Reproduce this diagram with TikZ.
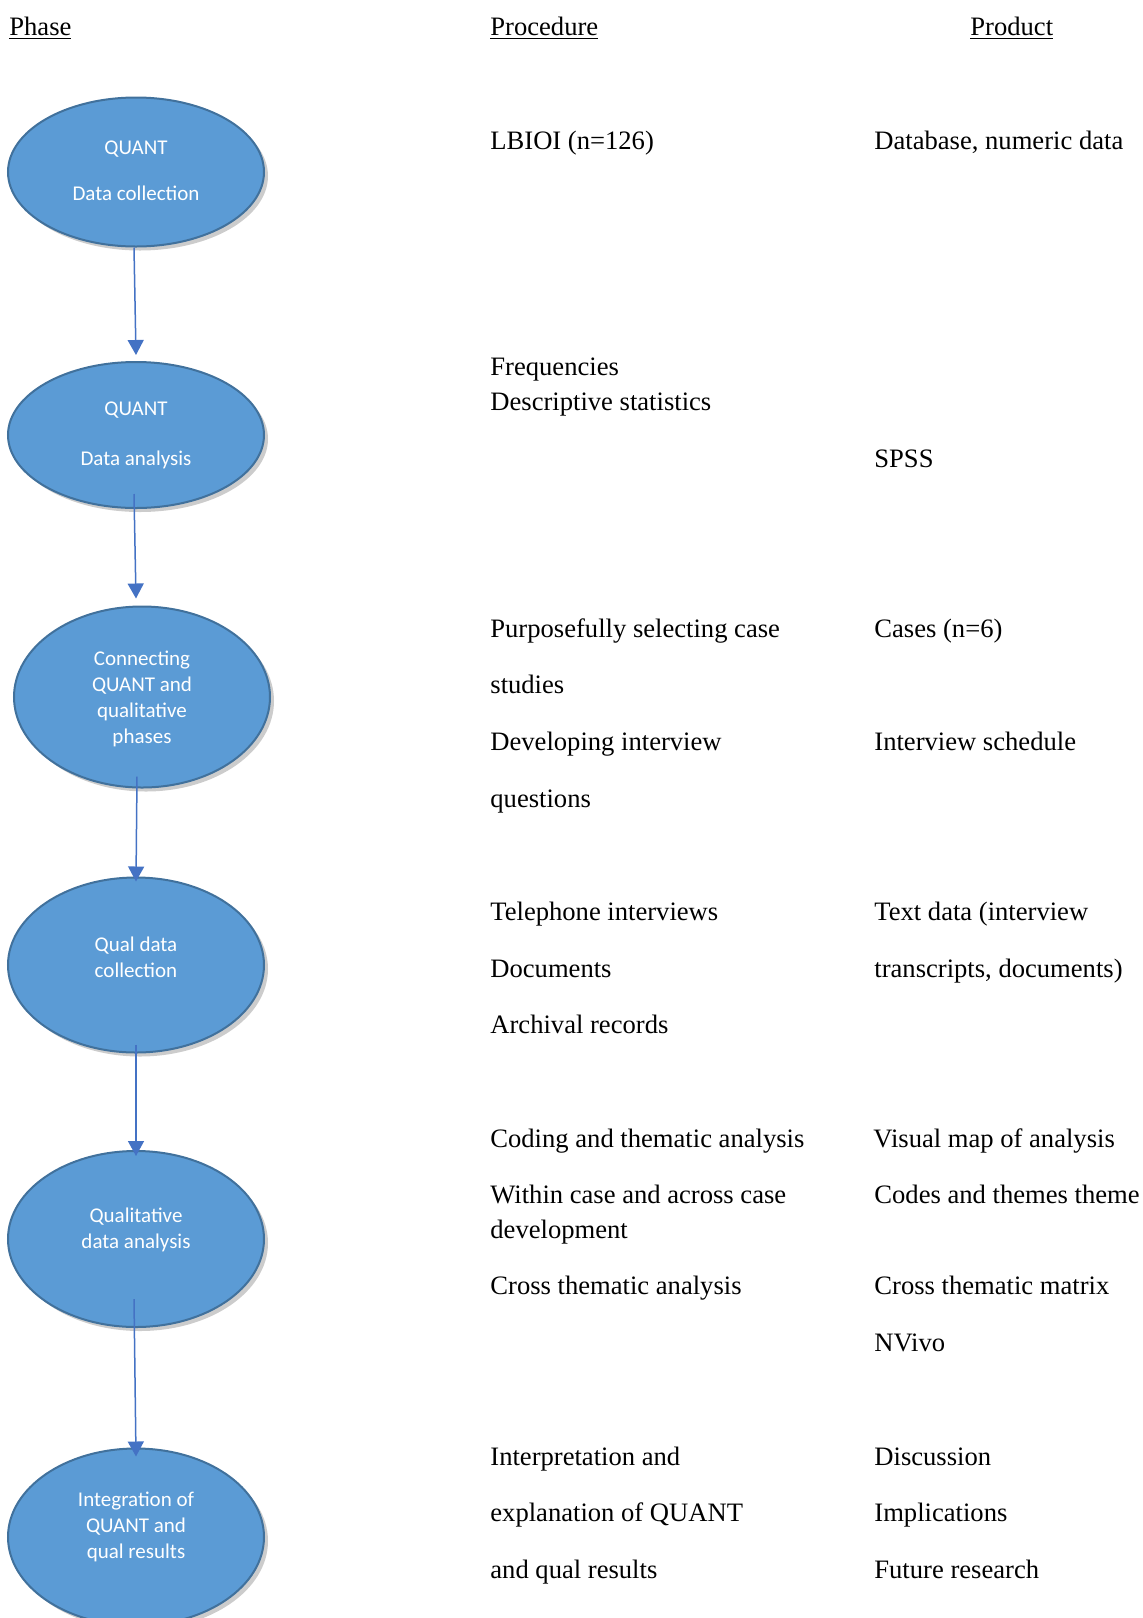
\documentclass[tikz,border=0pt]{standalone}
\usepackage{fontspec}
\setmainfont{Liberation Serif}
\newfontfamily\calibrifont{Carlito}
\usepackage{tikz}
\usetikzlibrary{shapes.geometric}
\usetikzlibrary{arrows.meta}
\usetikzlibrary{shadows}
\definecolor{phasefill}{HTML}{5B9BD5}
\definecolor{phaseline}{HTML}{41719C}
\definecolor{flowline}{HTML}{4472C4}
\tikzset{
phase/.style={ % Ellipse of each phase
ellipse, draw=phaseline, line width=1pt, fill=phasefill,
minimum width=128pt, inner sep=0pt,
drop shadow={shadow xshift=2pt, shadow yshift=-2pt, opacity=0.2, fill=black}},
phasetext/.style={ % Text set in the ellipses
align=center, text=white, inner sep=0pt,
font=\calibrifont\fontsize{10.5}{13}\selectfont},
flow/.style={ % Arrows between phases
draw=flowline, line width=0.75pt,
-{Triangle[width=8pt,length=7.5pt]}},
col/.style={anchor=base west, inner sep=0pt,
font=\fontsize{13.3}{16}\selectfont}}

\begin{document}
\begin{tikzpicture}[x=0.5pt,y=-0.5pt]
\useasboundingbox (0,0) rectangle (1142,1618);
\node[phase, minimum height=74.5pt] (qd) at (136,172) {};
\node[phase, minimum height=73pt] (qa) at (136,435) {};
\node[phase, minimum height=90.5pt] (cn) at (142,697) {};
\node[phase, minimum height=87.5pt] (qc) at (136,965) {};
\node[phase, minimum height=88pt] (ql) at (136,1239) {};
\node[phase, minimum height=88.5pt] (ig) at (136,1537) {};
\node[phasetext] (qd-t) at (136,171) {QUANT\\[10pt]Data collection};
\node[phasetext] (qa-t) at (136,435) {QUANT\\[12pt]Data analysis};
\node[phasetext] (cn-t) at (142,699) {Connecting\\QUANT and\\qualitative\\phases};
\node[phasetext] (qc-t) at (136,957) {Qual data\\collection};
\node[phasetext] (ql-t) at (136,1230) {Qualitative\\data analysis};
\node[phasetext] (ig-t) at (136,1527) {Integration of\\QUANT and\\qual results};
\draw[flow] ([xshift=-1pt]qd.south) -- ([yshift=3pt]qa.north);
\draw[flow] ([xshift=-1pt,yshift=7.5pt]qa.south) -- ([xshift=-3pt,yshift=3.5pt]cn.north);
\draw[flow] ([xshift=-2.5pt,yshift=6pt]cn.south) -- ([yshift=-2.5pt]qc.north);
\draw[flow] ([yshift=4.5pt]qc.south) -- ([yshift=-3pt]ql.north);
\draw[flow] ([xshift=-1pt,yshift=14.5pt]ql.south) -- ([yshift=-4.5pt]ig.north);
\node[col] (h1) at (9,35) {\underline{Phase}};
\node[col] (h2) at (490,35) {\underline{Procedure}};
\node[col] (h3) at (970,35) {\underline{Product}};
\node[col] (p1) at (490,149) {LBIOI (n=126)};
\node[col] (p2) at (490,375) {Frequencies};
\node[col] (p3) at (490,410) {Descriptive statistics};
\node[col] (p4) at (490,637) {Purposefully selecting case};
\node[col] (p5) at (490,693) {studies};
\node[col] (p6) at (490,750) {Developing interview};
\node[col] (p7) at (490,807) {questions};
\node[col] (p8) at (490,920) {Telephone interviews};
\node[col] (p9) at (490,977) {Documents};
\node[col] (p10) at (490,1033) {Archival records};
\node[col] (p11) at (490,1147) {Coding and thematic analysis};
\node[col] (p12) at (490,1203) {Within case and across case};
\node[col] (p13) at (490,1238) {development};
\node[col] (p14) at (490,1294) {Cross thematic analysis};
\node[col] (p15) at (490,1465) {Interpretation and};
\node[col] (p16) at (490,1521) {explanation of QUANT};
\node[col] (p17) at (490,1578) {and qual results};
\node[col] (r1) at (874,149) {Database, numeric data};
\node[col] (r2) at (874,467) {SPSS};
\node[col] (r3) at (874,637) {Cases (n=6)};
\node[col] (r4) at (874,750) {Interview schedule};
\node[col] (r5) at (874,920) {Text data (interview};
\node[col] (r6) at (874,977) {transcripts, documents)};
\node[col] (r7) at (873,1147) {Visual map of analysis};
\node[col] (r8) at (874,1203) {Codes and themes theme};
\node[col] (r9) at (874,1294) {Cross thematic matrix};
\node[col] (r10) at (874,1351) {NVivo};
\node[col] (r11) at (874,1465) {Discussion};
\node[col] (r12) at (874,1521) {Implications};
\node[col] (r13) at (874,1578) {Future research};
\end{tikzpicture}
\end{document}
